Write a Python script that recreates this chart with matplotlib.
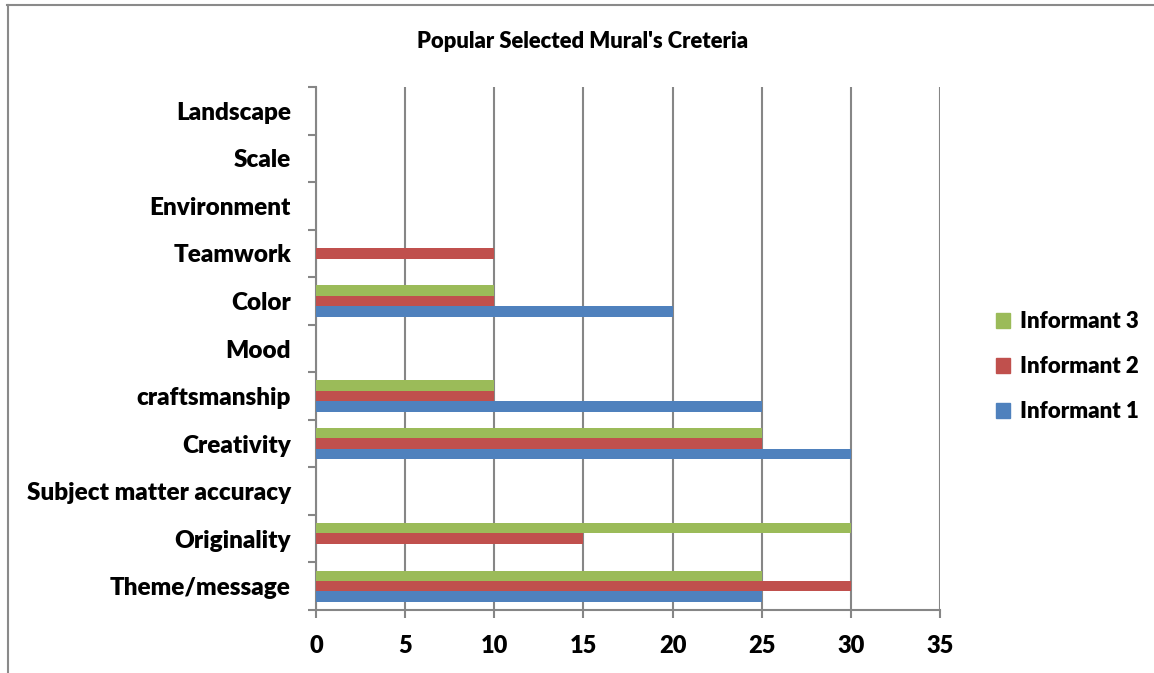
import matplotlib
matplotlib.use("Agg")
import matplotlib.pyplot as plt
from matplotlib.lines import Line2D
from matplotlib.patches import Patch
import numpy as np

plt.rcParams['font.family'] = ['Lato', 'DejaVu Sans']
plt.rcParams['font.weight'] = 'heavy'

categories = ["Theme/message", "Originality", "Subject matter accuracy", "Creativity",
              "craftsmanship", "Mood", "Color", "Teamwork", "Environment", "Scale", "Landscape"]
informant_1 = [25, 0, 0, 30, 25, 0, 20, 0, 0, 0, 0]
informant_2 = [30, 15, 0, 25, 10, 0, 10, 10, 0, 0, 0]
informant_3 = [25, 30, 0, 25, 10, 0, 10, 0, 0, 0, 0]
series_names = ["Informant 1", "Informant 2", "Informant 3"]
colors = ["#4F81BD", "#C0504D", "#9BBB59"]
x_ticks = [0, 5, 10, 15, 20, 25, 30, 35]
title = "Popular Selected Mural's Creteria"

W, H = 1154, 673
fig = plt.figure(figsize=(W / 100, H / 100), dpi=100)
ax = fig.add_axes([316 / W, 1 - 610 / H, (940 - 316) / W, (610 - 87) / H])

grey = "#868686"
y = np.arange(len(categories))
bh = 0.22
for k, (vals, c) in enumerate(zip([informant_1, informant_2, informant_3], colors)):
    ax.barh(y + (k - 1) * bh, vals, height=bh, color=c, zorder=3, linewidth=0)

ax.set_xlim(0, 35)
ax.set_ylim(-0.5, len(categories) - 0.5)
ax.set_xticks(x_ticks)
ax.set_xticklabels([str(t) for t in x_ticks], fontsize=17, fontweight='heavy')
ax.set_yticks(y)
ax.set_yticklabels(categories, fontsize=17.5, fontweight='heavy')
ax.tick_params(axis='y', length=0, pad=18)
ax.tick_params(axis='x', length=6, width=1.5, color=grey, pad=12)
ax.set_yticks(np.arange(-0.5, len(categories), 1.0), minor=True)
ax.tick_params(axis='y', which='minor', length=6, width=1.5, color=grey)
ax.xaxis.grid(True, color=grey, linewidth=1.5, zorder=0)
for s in ["top", "right"]:
    ax.spines[s].set_visible(False)
for s in ["left", "bottom"]:
    ax.spines[s].set_color(grey)
    ax.spines[s].set_linewidth(1.5)

fig.text(583 / W, 1 - 42 / H, title, ha='center', va='center', fontsize=15.8, fontweight='heavy')

handles = [Patch(color=c, label=n) for n, c in zip(series_names, colors)][::-1]
fig.legend(handles=handles, loc='center left', bbox_to_anchor=(980 / W, 1 - 367 / H),
           frameon=False, handlelength=0.65, handleheight=0.65,
           handletextpad=0.45, labelspacing=1.08, borderpad=0.2,
           prop={'weight': 'heavy', 'size': 16})

# outer frame: top and left edges
fig.add_artist(Line2D([7 / W, 1], [1 - 4.5 / H, 1 - 4.5 / H], color="#8a8a8a", linewidth=1.5,
                      transform=fig.transFigure))
fig.add_artist(Line2D([7.5 / W, 7.5 / W], [0, 1 - 4.5 / H], color="#8a8a8a", linewidth=1.5,
                      transform=fig.transFigure))

fig.savefig("out.png", dpi=100)
